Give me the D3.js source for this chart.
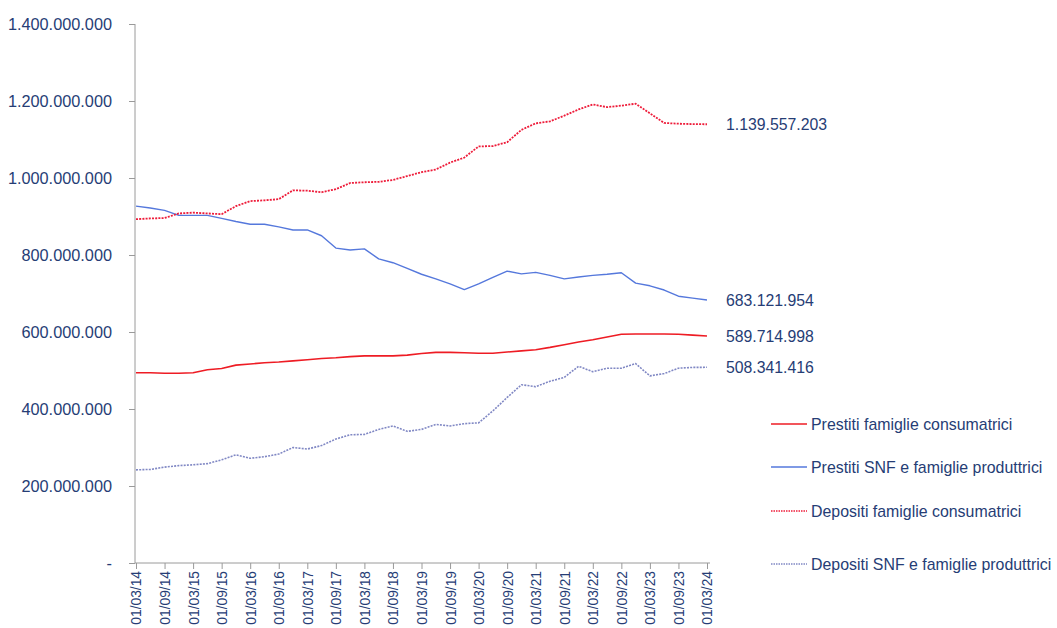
<!DOCTYPE html>
<html><head><meta charset="utf-8">
<script src="https://cdn.jsdelivr.net/npm/d3@7"></script>
<style>
html,body{margin:0;padding:0;background:#fff;}
svg{display:block;font-family:"Liberation Sans",Arial,sans-serif;}
</style></head>
<body>
<svg id="chart" width="1057" height="628"></svg>
<script>
// quarterly periods 03/2014 .. 03/2024
const periods = ["03/14","06/14","09/14","12/14","03/15","06/15","09/15","12/15","03/16","06/16","09/16","12/16","03/17","06/17","09/17","12/17","03/18","06/18","09/18","12/18","03/19","06/19","09/19","12/19","03/20","06/20","09/20","12/20","03/21","06/21","09/21","12/21","03/22","06/22","09/22","12/22","03/23","06/23","09/23","12/23","03/24"];
const xTickLabels = ["01/03/14","01/09/14","01/03/15","01/09/15","01/03/16","01/09/16","01/03/17","01/09/17","01/03/18","01/09/18","01/03/19","01/09/19","01/03/20","01/09/20","01/03/21","01/09/21","01/03/22","01/09/22","01/03/23","01/09/23","01/03/24"];
const yTicks = [0,200e6,400e6,600e6,800e6,1000e6,1200e6,1400e6];

// values in millions (last value exact)
const prestitiFam = [494,494,493,493,494,502,505,514,517,520,522,525,528,531,533,536,538,538,538,540,544,547,547,546,545,545,548,551,554,560,567,574,580,587,594,595,595,595,594,592,589.714998];
const prestitiSNF = [927,922,916,903,903,903,895,887,880,880,873,865,865,850,818,813,816,790,780,765,750,738,725,710,725,742,758,751,755,747,738,743,747,750,754,727,720,709,693,688,683.121954];
const depositiFam = [893,895,896,908,910,908,906,927,940,942,945,968,967,963,971,987,989,990,995,1005,1015,1022,1040,1053,1082,1083,1093,1125,1142,1147,1162,1178,1191,1184,1188,1193,1168,1143,1141,1140,1139.557203];
const depositiSNF = [242,243,249,253,255,258,268,281,272,276,283,300,296,305,322,333,334,347,356,342,347,360,356,362,364,395,430,463,458,472,482,511,497,506,506,518,486,492,506,508,508.341416];

const seriesNames = ["Prestiti famiglie consumatrici","Prestiti SNF e famiglie produttrici","Depositi famiglie consumatrici","Depositi SNF e famiglie produttrici"];
const endLabels = ["589.714.998","683.121.954","1.139.557.203","508.341.416"];

const series = [
  {name:seriesNames[0], values:prestitiFam, color:"#ee1c24", dash:null, width:1.6, end:endLabels[0]},
  {name:seriesNames[1], values:prestitiSNF, color:"#5578dc", dash:null, width:1.4, end:endLabels[1]},
  {name:seriesNames[2], values:depositiFam, color:"#ee1c3a", dash:"2,1.2", width:1.8, end:endLabels[2]},
  {name:seriesNames[3], values:depositiSNF, color:"#8088c4", dash:"2,1.2", width:1.6, end:endLabels[3]}
];

const svg = d3.select("#chart");
const textColor = "#263d75";
const it = d3.formatLocale({decimal:",",thousands:".",grouping:[3],currency:["€",""]});
const fmt = it.format(",.0f");

const x = d3.scaleLinear().domain([0, periods.length-1]).range([136, 707]);
const y = d3.scaleLinear().domain([0, 1400e6]).range([563, 24]);

// y axis
const yAxis = d3.axisLeft(y).tickValues(yTicks).tickSize(6).tickPadding(17)
  .tickFormat(d => d === 0 ? "-" : fmt(d));
const gy = svg.append("g").attr("transform","translate(135,0)").call(yAxis);
gy.select(".domain").attr("stroke","#9a9a9a").attr("d","M0,24V563");
gy.selectAll(".tick line").attr("stroke","#9a9a9a");
gy.selectAll(".tick text").attr("fill",textColor).style("font-size","16.3px").style("font-family","Liberation Sans, Arial, sans-serif");

// x axis
const xTickIdx = xTickLabels.map((_,i)=>i*2);
const xAxis = d3.axisBottom(x).tickValues(xTickIdx).tickSize(6)
  .tickFormat((d,i)=>xTickLabels[i]);
const gx = svg.append("g").attr("transform","translate(0,563)").call(xAxis);
gx.select(".domain").attr("stroke","#9a9a9a").attr("d","M135,0H710");
gx.selectAll(".tick line").attr("stroke","#9a9a9a");
gx.selectAll(".tick text")
  .attr("fill",textColor).style("font-size","13.8px").style("font-family","Liberation Sans, Arial, sans-serif")
  .attr("text-anchor","end").attr("transform","translate(0,8) rotate(-90)")
  .attr("x",0).attr("y",0).attr("dy","0.36em");

// lines
const line = d3.line().x((d,i)=>x(i)).y(d=>y(d*1e6));
series.forEach(s=>{
  svg.append("path").datum(s.values).attr("d",line)
    .attr("fill","none").attr("stroke",s.color).attr("stroke-width",s.width)
    .attr("stroke-dasharray",s.dash).attr("stroke-linejoin","round");
});

// end labels
series.forEach((s,i)=>{
  svg.append("text").attr("x",726).attr("y",y(s.values[s.values.length-1]*1e6))
    .attr("dy","0.36em").attr("fill",textColor).style("font-size","15.8px").text(s.end);
});

// legend
const legY = [424,467,511,564];
series.forEach((s,i)=>{
  svg.append("line").attr("x1",771).attr("x2",807).attr("y1",legY[i]).attr("y2",legY[i])
    .attr("stroke",s.color).attr("stroke-width",s.dash?1.3:1.4).attr("stroke-dasharray",s.dash?"1.5,1":null);
  svg.append("text").attr("x",811).attr("y",legY[i]).attr("dy","0.36em")
    .attr("fill",textColor).style("font-size","15.9px").text(s.name);
});
</script>
</body></html>
